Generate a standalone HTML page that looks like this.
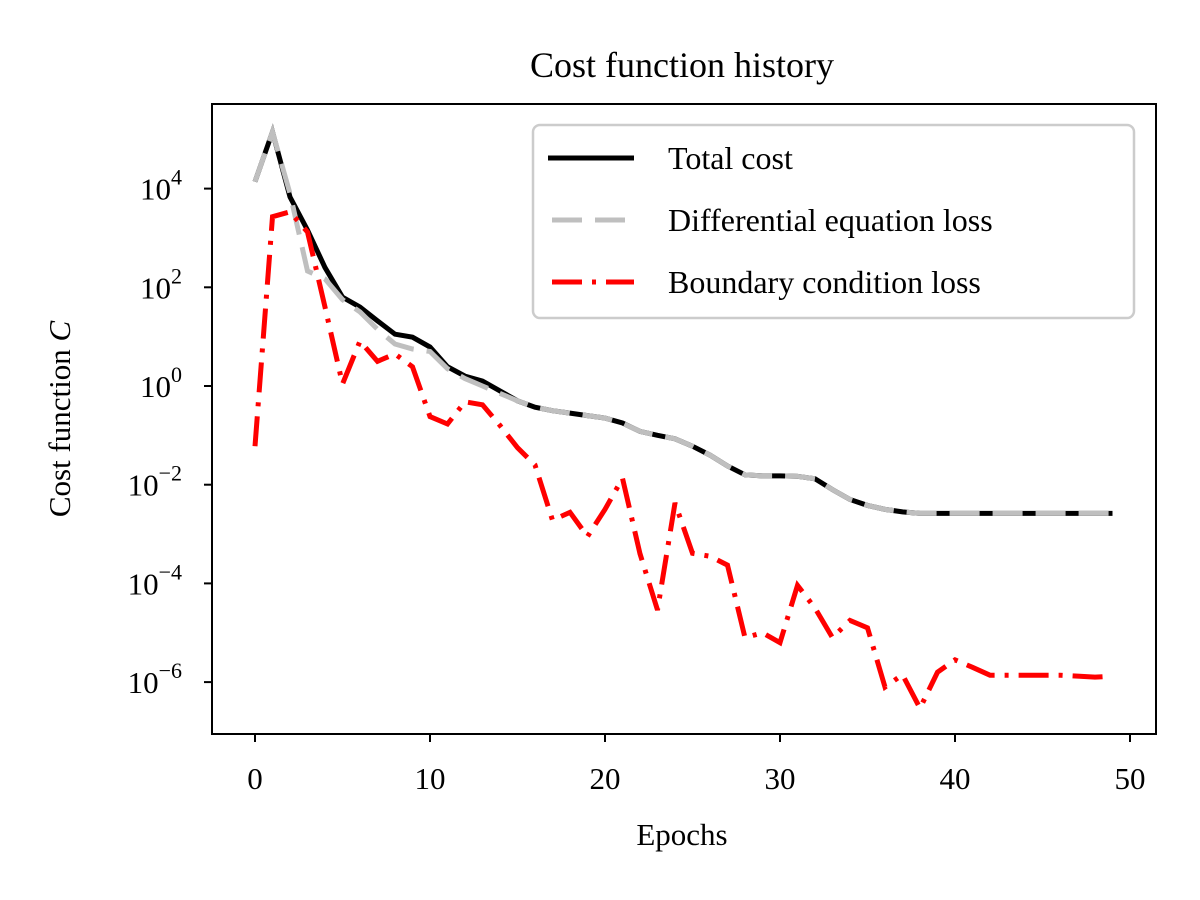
<!DOCTYPE html>
<html><head><meta charset="utf-8"><style>
html,body{margin:0;padding:0;background:#fff;}
svg{display:block;font-family:"Liberation Serif","DejaVu Serif",serif;}
</style></head><body>
<svg id="chart" width="1200" height="900" viewBox="0 0 1200 900">
<rect width="1200" height="900" fill="#fff"/>
<text x="682" y="77" font-size="36" text-anchor="middle">Cost function history</text>
<g id="plot"></g>
<g id="axes"></g>
<text x="682" y="845" font-size="31" text-anchor="middle">Epochs</text>
<text transform="translate(70,419) rotate(-90)" font-size="31" text-anchor="middle">Cost function <tspan font-style="italic">C</tspan></text>
<g>
<rect x="533" y="125" width="601" height="193" rx="7" fill="#fff" fill-opacity="0.8" stroke="#ccc" stroke-width="2.5"/>
<line x1="548" y1="158" x2="634" y2="158" stroke="#000" stroke-width="5"/>
<text x="668" y="169" font-size="32">Total cost</text>
<line x1="552" y1="220" x2="634" y2="220" stroke="#bfbfbf" stroke-width="5" stroke-dasharray="30,13"/>
<text x="668" y="231" font-size="32">Differential equation loss</text>
<line x1="552" y1="282" x2="634" y2="282" stroke="#f00" stroke-width="5" stroke-dasharray="30,10,4,10"/>
<text x="668" y="293" font-size="32">Boundary condition loss</text>
</g>
</svg>
<script>
const epochs = Array.from({length:50},(_,i)=>i);
const totalLog = [4.14,5.15,3.83,3.16,2.4,1.8,1.6,1.32,1.05,0.99,0.79,0.39,0.2,0.1,-0.1,-0.3,-0.43,-0.5,-0.55,-0.6,-0.65,-0.75,-0.92,-1.0,-1.07,-1.22,-1.4,-1.62,-1.8,-1.82,-1.82,-1.83,-1.88,-2.1,-2.3,-2.42,-2.5,-2.55,-2.58,-2.58,-2.58,-2.58,-2.58,-2.58,-2.58,-2.58,-2.58,-2.58,-2.58,-2.58];
const deLog = [4.14,5.15,3.9,2.33,2.17,1.75,1.5,1.15,0.85,0.75,0.7,0.35,0.15,0.0,-0.15,-0.3,-0.43,-0.5,-0.55,-0.6,-0.65,-0.75,-0.92,-1.0,-1.07,-1.22,-1.4,-1.62,-1.8,-1.82,-1.82,-1.83,-1.88,-2.1,-2.3,-2.42,-2.5,-2.55,-2.58,-2.58,-2.58,-2.58,-2.58,-2.58,-2.58,-2.58,-2.58,-2.58,-2.58,-2.58];
const bcLog = [-1.22,3.43,3.53,3.12,1.6,0.04,0.91,0.5,0.65,0.39,-0.62,-0.77,-0.32,-0.38,-0.8,-1.25,-1.6,-2.72,-2.56,-3.05,-2.5,-1.87,-3.4,-4.54,-2.37,-3.39,-3.45,-3.63,-5.1,-5.0,-5.2,-4.04,-4.5,-5.1,-4.75,-4.9,-6.1,-5.85,-6.53,-5.8,-5.55,-5.7,-5.86,-5.86,-5.86,-5.86,-5.86,-5.88,-5.9,-5.88];
const xTicks = [0,10,20,30,40,50];
const yTicks = [4,2,0,-2,-4,-6];

const NS="http://www.w3.org/2000/svg";
const X0=212,X1=1156,Y0=104,Y1=734;
function xs(v){return 255+v*17.5;}
function ys(l){return 386-l*49.35;}
const plot=document.getElementById('plot'), axes=document.getElementById('axes');
function poly(arr,stroke,dash,name){
  const p=document.createElementNS(NS,'polyline');
  p.setAttribute('points',epochs.map((e,i)=>xs(e)+','+ys(arr[i])).join(' '));
  p.setAttribute('fill','none');p.setAttribute('stroke',stroke);p.setAttribute('stroke-width','5');
  if(dash)p.setAttribute('stroke-dasharray',dash);
  
  
  plot.appendChild(p);
}
poly(totalLog,'#000',null,'total-cost-line');
poly(deLog,'#bfbfbf','30,13','de-loss-line');
poly(bcLog,'#f00','30,10,4,10','bc-loss-line');
const frame=document.createElementNS(NS,'rect');
frame.setAttribute('x',X0);frame.setAttribute('y',Y0);frame.setAttribute('width',X1-X0);frame.setAttribute('height',Y1-Y0);
frame.setAttribute('fill','none');frame.setAttribute('stroke','#000');frame.setAttribute('stroke-width','2');


axes.appendChild(frame);
xTicks.forEach(t=>{
  const x=xs(t);
  const l=document.createElementNS(NS,'line');
  l.setAttribute('x1',x);l.setAttribute('x2',x);l.setAttribute('y1',Y1);l.setAttribute('y2',Y1+8);l.setAttribute('stroke','#000');l.setAttribute('stroke-width','2');
  
  
  axes.appendChild(l);
  const tx=document.createElementNS(NS,'text');
  tx.setAttribute('x',x);tx.setAttribute('y',789);tx.setAttribute('font-size','31');tx.setAttribute('text-anchor','middle');
  tx.textContent=t;
  
  
  axes.appendChild(tx);
});
yTicks.forEach(t=>{
  const y=ys(t);
  const l=document.createElementNS(NS,'line');
  l.setAttribute('x1',X0-8);l.setAttribute('x2',X0);l.setAttribute('y1',y);l.setAttribute('y2',y);l.setAttribute('stroke','#000');l.setAttribute('stroke-width','2');
  
  
  axes.appendChild(l);
  const tx=document.createElementNS(NS,'text');
  tx.setAttribute('x',182);tx.setAttribute('y',y+11);tx.setAttribute('font-size','31');tx.setAttribute('text-anchor','end');
  const sup=t<0?'\u2212'+(-t):String(t);
  tx.innerHTML='10<tspan dy="-15" font-size="22">'+sup+'</tspan>';
  
  
  axes.appendChild(tx);
});
</script>
</body></html>
